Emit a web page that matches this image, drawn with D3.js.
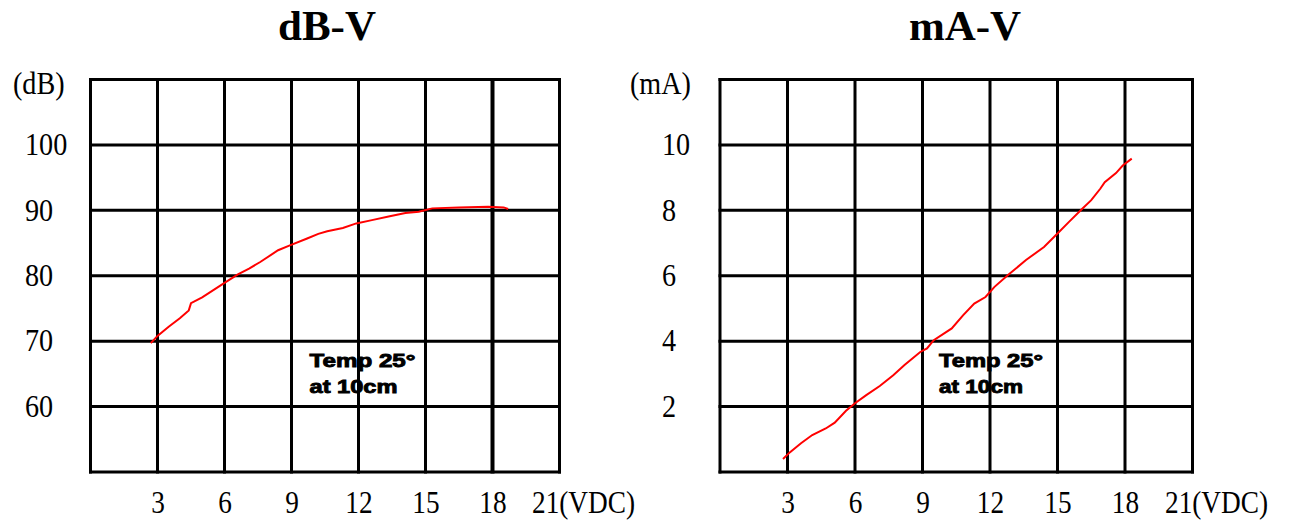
<!DOCTYPE html>
<html>
<head>
<meta charset="utf-8">
<script src="https://cdn.jsdelivr.net/npm/d3@7"></script>
<style>
  body { margin: 0; background: #fff; }
  svg { display: block; }
</style>
</head>
<body>
<svg id="chart" width="1299" height="520"></svg>
<script>
// values
var voltTicks = [3, 6, 9, 12, 15, 18, 21];
var dbTicks = [60, 70, 80, 90, 100];
var maTicks = [2, 4, 6, 8, 10];

var dbVolts = [2.7, 3.0, 3.5, 4.0, 4.4, 4.5, 5.0, 5.5, 6.0, 6.6, 7.1, 7.6, 8.4, 8.9,
               9.7, 10.2, 10.6, 11.3, 11.9, 12.6, 13.4, 14.1, 14.7, 15.3, 16.5, 17.8,
               18.5, 18.7];
var dbValues = [69.7, 70.8, 72.2, 73.5, 74.7, 75.8, 76.7, 77.8, 78.9, 80.2, 81.1, 82.1,
                83.9, 84.6, 85.7, 86.4, 86.8, 87.3, 88.0, 88.5, 89.1, 89.6, 89.8, 90.3,
                90.45, 90.55, 90.45, 90.2];

var maVolts = [2.8, 3.1, 3.6, 4.1, 4.7, 5.1, 5.6, 6.0, 6.5, 7.1, 7.7, 8.2, 8.9, 9.2,
               9.5, 10.3, 10.8, 11.3, 11.8, 12.2, 12.8, 13.6, 14.4, 15.0, 15.5, 16.1,
               16.5, 16.9, 17.1, 17.6, 17.9, 18.3];
var maValues = [0.40, 0.60, 0.88, 1.13, 1.33, 1.51, 1.87, 2.10, 2.35, 2.63, 2.96, 3.27,
                3.67, 3.78, 4.03, 4.39, 4.79, 5.15, 5.35, 5.66, 6.02, 6.48, 6.88, 7.29,
                7.64, 8.05, 8.31, 8.66, 8.86, 9.14, 9.37, 9.58];

var note = ["Temp 25\u00b0", "at 10cm"];

var top_y = 79.5, bottom_y = 472;
var serif = "'Liberation Serif', 'Times New Roman', serif";
var squeeze = 0.88; // tick digits in the picture are narrow

var charts = [
  { title: "dB-V", unit: "(dB)", left: 90.5, right: 559.5, titleX: 327,
    yDomain: [50, 110], yTicks: dbTicks, labelX: 25, unitX: 13,
    xs: dbVolts, ys: dbValues, boldAt: 18, noteW: [106, 88] },
  { title: "mA-V", unit: "(mA)", left: 720, right: 1192.5, titleX: 965,
    yDomain: [0, 12], yTicks: maTicks, labelX: 662, unitX: 630,
    xs: maVolts, ys: maValues, boldAt: null, noteW: [104, 84] }
];

var svg = d3.select("#chart");

charts.forEach(function(c) {
  var x = d3.scaleLinear().domain([0, 21]).range([c.left, c.right]);
  var y = d3.scaleLinear().domain(c.yDomain).range([bottom_y, top_y]);
  var g = svg.append("g");

  g.append("text")
    .attr("x", c.titleX).attr("y", 40)
    .attr("text-anchor", "middle")
    .style("font-family", serif).style("font-weight", "bold")
    .style("font-size", "43px")
    .text(c.title);

  // grid, borders included
  var vx = [0].concat(voltTicks);
  var ystep = (c.yDomain[1] - c.yDomain[0]) / 6;
  var hy = d3.range(7).map(function(i) { return c.yDomain[0] + i * ystep; });

  g.selectAll("line.v").data(vx).enter().append("line")
    .attr("x1", function(d) { return x(d); }).attr("x2", function(d) { return x(d); })
    .attr("y1", top_y - 1.5).attr("y2", bottom_y + 1.5)
    .attr("stroke", "#000")
    .attr("stroke-width", function(d) { return d === c.boldAt ? 4 : 3; });
  g.selectAll("line.h").data(hy).enter().append("line")
    .attr("x1", c.left - 1.5).attr("x2", c.right + 1.5)
    .attr("y1", function(d) { return y(d); }).attr("y2", function(d) { return y(d); })
    .attr("stroke", "#000").attr("stroke-width", 3);

  // x axis labels
  var xa = g.append("g")
    .attr("transform", "translate(0," + 513 + ")")
    .call(d3.axisBottom(x).tickValues(voltTicks).tickSize(0)
      .tickFormat(function(d) { return d === 21 ? "21(VDC)" : d; }));
  xa.select(".domain").remove();
  xa.selectAll("text")
    .attr("y", 0).attr("dy", 0)
    .attr("transform", "scale(" + squeeze + ",1)")
    .attr("text-anchor", function(d) { return d === 21 ? "start" : "middle"; })
    .attr("x", function(d) { return d === 21 ? -28 / squeeze : 0; })
    .style("font-family", serif).style("font-size", "31px").attr("fill", "#000");

  // y axis labels, left aligned like the picture
  var ya = g.append("g")
    .attr("transform", "translate(" + c.left + ",0)")
    .call(d3.axisLeft(y).tickValues(c.yTicks).tickSize(0));
  ya.select(".domain").remove();
  ya.selectAll("text")
    .attr("text-anchor", "start")
    .attr("x", (c.labelX - c.left) / squeeze)
    .attr("y", -1.5).attr("dy", "0.35em")
    .attr("transform", "scale(" + squeeze + ",1)")
    .style("font-family", serif).style("font-size", "32px").attr("fill", "#000");

  g.append("text")
    .attr("transform", "translate(" + c.unitX + "," + (top_y + 3) + ") scale(" + squeeze + ",1)")
    .attr("dy", "0.35em")
    .style("font-family", serif).style("font-size", "32px")
    .text(c.unit);

  var pts = c.xs.map(function(v, i) { return [v, c.ys[i]]; });
  g.append("path")
    .datum(pts)
    .attr("d", d3.line().x(function(d) { return x(d[0]); }).y(function(d) { return y(d[1]); }))
    .attr("fill", "none").attr("stroke", "#ff0000").attr("stroke-width", 2);

  g.selectAll("text.note").data(note).enter().append("text")
    .attr("class", "note")
    .attr("x", c.left + 219)
    .attr("y", function(d, i) { return 367 + i * 26; })
    .attr("textLength", function(d, i) { return c.noteW[i]; })
    .attr("lengthAdjust", "spacingAndGlyphs")
    .attr("stroke", "#000").attr("stroke-width", 0.9)
    .style("font-family", "'Liberation Sans', Arial, sans-serif")
    .style("font-weight", "bold").style("font-size", "19px")
    .text(function(d) { return d; });
});
</script>
</body>
</html>
